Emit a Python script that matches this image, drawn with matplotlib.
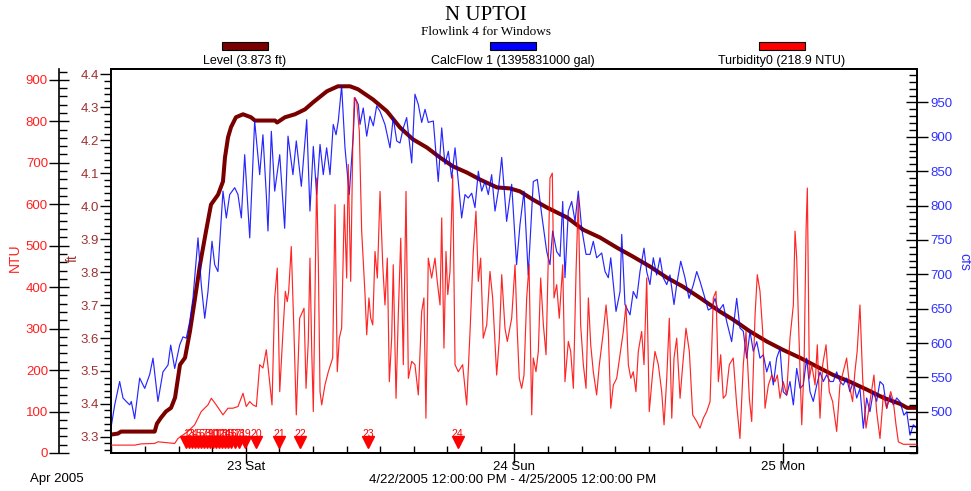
import datetime as dt
import matplotlib
matplotlib.use("Agg")
import matplotlib.pyplot as plt
import matplotlib.dates as mdates
import matplotlib.transforms as mtransforms
from matplotlib.patches import Rectangle
from matplotlib.ticker import MultipleLocator, FixedLocator

plt.rcParams['font.family'] = ['Liberation Sans', 'DejaVu Sans']

start = dt.datetime(2005, 4, 22, 12)

# Level (ft), hours since 4/22/2005 12:00 PM
level_hours = [0, 0.58, 0.85, 3.86, 4.06, 4.42, 4.87, 5.32, 5.68, 6.12, 6.57, 7.01, 7.46, 7.91,
               8.44, 8.89, 9.52, 9.96, 10.14, 10.41, 10.68, 11.12, 11.75, 12.46, 12.82, 14.61,
               14.79, 15.5, 16.39, 17.29, 18.0, 19.25, 20.23, 21.31, 22.02, 23.36, 24.61, 25.77,
               26.93, 28.18, 29.34, 30.5, 31.76, 32.92, 34.44, 35.6, 36.49, 37.65, 38.9, 40.69,
               42.12, 43.64, 45.16, 46.59, 48.1, 49.62, 51.05, 52.57, 54.36, 55.52, 57.04, 58.56,
               59.99, 61.51, 63.03, 64.46, 65.98, 67.5, 68.93, 70.45, 71.08, 72.0]
level_ft = [3.307, 3.31, 3.316, 3.316, 3.34, 3.358, 3.377, 3.388, 3.419, 3.519, 3.54, 3.62, 3.72,
            3.823, 3.923, 4.005, 4.035, 4.075, 4.148, 4.209, 4.24, 4.27, 4.279, 4.27, 4.26, 4.26,
            4.254, 4.27, 4.279, 4.294, 4.315, 4.349, 4.364, 4.364, 4.355, 4.324, 4.288, 4.239,
            4.203, 4.178, 4.148, 4.121, 4.102, 4.081, 4.057, 4.054, 4.045, 4.02, 3.996, 3.966,
            3.929, 3.905, 3.874, 3.847, 3.817, 3.783, 3.756, 3.722, 3.68, 3.656, 3.62, 3.589,
            3.564, 3.54, 3.513, 3.488, 3.467, 3.443, 3.419, 3.4, 3.388, 3.388]

# CalcFlow 1 (cfs)
flow_hours = [0, 0.29, 0.73, 1.03, 1.32, 1.63, 1.77, 2.07, 2.52, 2.97, 3.41, 3.71, 4.15, 4.6,
              5.05, 5.29, 5.65, 6.09, 6.39, 6.68, 6.99, 7.28, 7.73, 8.02, 8.33, 8.62, 8.98, 9.22,
              9.51, 9.96, 10.26, 10.56, 11.01, 11.3, 11.6, 11.9, 12.35, 12.79, 13.24, 13.53,
              13.83, 13.98, 14.28, 14.58, 15.03, 15.47, 15.77, 16.21, 16.51, 16.96, 17.44, 17.73,
              18.03, 18.33, 18.63, 18.92, 19.22, 19.52, 19.81, 20.06, 20.26, 20.56, 20.86, 21.24,
              21.6, 21.75, 22.05, 22.2, 22.49, 22.8, 23.09, 23.39, 23.69, 23.99, 24.43, 24.88,
              25.17, 25.48, 25.77, 26.07, 26.37, 26.82, 27.11, 27.41, 27.71, 28.01, 28.3, 28.75,
              29.19, 29.5, 29.79, 30.09, 30.39, 30.69, 30.98, 31.28, 31.58, 31.87, 32.18, 32.47,
              32.77, 33.07, 33.37, 33.66, 33.96, 34.26, 34.55, 34.86, 35.3, 35.75, 36.19, 36.49,
              36.85, 37.23, 37.68, 38.04, 38.43, 38.88, 39.17, 39.41, 39.77, 40.07, 40.31, 40.51,
              40.81, 41.11, 41.41, 41.7, 42.0, 42.39, 42.75, 43.04, 43.34, 43.79, 44.09, 44.38,
              44.6, 45.07, 45.43, 45.58, 45.87, 46.32, 46.61, 46.92, 47.21, 47.57, 47.81, 48.1,
              48.4, 48.7, 49.0, 49.29, 49.6, 49.89, 50.25, 50.49, 50.85, 51.23, 51.59, 51.98,
              52.28, 52.57, 52.93, 53.31, 53.62, 53.91, 54.21, 54.65, 54.96, 55.4, 55.85, 56.14,
              56.44, 56.74, 57.04, 57.33, 57.64, 57.93, 58.23, 58.53, 58.82, 59.12, 59.42, 59.72,
              60.01, 60.31, 60.61, 60.91, 61.21, 61.51, 61.8, 62.1, 62.4, 62.69, 63.0, 63.29,
              63.59, 63.89, 64.18, 64.48, 64.78, 65.07, 65.37, 65.67, 65.96, 66.27, 66.57, 66.86,
              67.16, 67.46, 67.75, 68.05, 68.35, 68.65, 68.95, 69.25, 69.54, 69.84, 70.14, 70.43,
              70.79, 71.04, 71.33, 71.63, 71.93]
flow_cfs = [481, 510, 544, 520, 515, 510, 515, 490, 549, 534, 554, 578, 515, 558,
            568, 597, 563, 597, 609, 607, 631, 665, 753, 685, 636, 675, 748, 714,
            704, 821, 782, 816, 826, 816, 782, 874, 753, 923, 845, 903,
            816, 763, 908, 821, 874, 767, 901, 845, 894, 828, 925, 792,
            886, 816, 889, 845, 884, 845, 918, 903, 923, 974, 884, 816,
            903, 957, 947, 918, 942, 901, 930, 916, 945, 937, 918, 884,
            928, 894, 891, 913, 928, 862, 962, 947, 921, 940, 921, 923,
            835, 913, 860, 879, 840, 884, 835, 782, 816, 811, 818, 797,
            850, 821, 835, 816, 845, 792, 821, 870, 777, 831, 714, 772,
            821, 699, 835, 838, 787, 733, 714, 763, 733, 726, 806, 695,
            792, 806, 777, 821, 767, 729, 729, 748, 724, 731, 704, 695,
            724, 646, 675, 758, 656, 641, 675, 665, 704, 738, 704, 685,
            724, 699, 724, 695, 685, 699, 656, 685, 719, 695, 665, 685,
            704, 690, 670, 648, 651, 665, 646, 656, 631, 602, 665, 622,
            617, 578, 617, 588, 602, 578, 583, 558, 573, 539, 578, 592,
            529, 524, 544, 510, 563, 534, 539, 578, 529, 515, 539, 558,
            544, 554, 544, 544, 558, 544, 539, 549, 529, 544, 520, 534,
            476, 520, 500, 529, 515, 544, 539, 505, 524, 510, 520, 515,
            495, 500, 466, 481, 476]

# Turbidity0 (NTU)
turb_hours = [0, 2.07, 2.66, 3.86, 4.15, 5.65, 5.94, 6.83, 7.43, 8.02, 8.62, 8.92, 9.36, 9.96,
              10.41, 10.85, 11.3, 11.75, 12.04, 12.35, 12.64, 12.94, 13.24, 13.53, 13.83, 14.13,
              14.34, 14.58, 14.81, 15.03, 15.32, 15.53, 15.7, 15.83, 16.06, 16.3, 16.51, 16.81,
              17.2, 17.38, 17.58, 17.73, 17.89, 18.03, 18.18, 18.33, 18.48, 18.63, 18.78, 19.07,
              19.37, 19.76, 19.97, 20.17, 20.35, 20.56, 20.8, 21.01, 21.15, 21.37, 21.55, 21.69,
              21.9, 22.14, 22.35, 22.65, 22.8, 23.0, 23.16, 23.34, 23.54, 23.75, 23.99, 24.23,
              24.43, 24.64, 24.82, 25.03, 25.17, 25.42, 25.62, 25.84, 26.07, 26.31, 26.52, 26.82,
              27.11, 27.41, 27.71, 27.91, 28.09, 28.3, 28.6, 28.9, 29.1, 29.35, 29.5, 29.7,
              29.88, 30.04, 30.24, 30.48, 30.69, 30.98, 31.37, 31.73, 32.03, 32.32, 32.56, 32.77,
              32.98, 33.21, 33.52, 33.81, 34.05, 34.41, 34.65, 34.86, 35.15, 35.36, 35.75, 36.05,
              36.25, 36.43, 36.64, 36.85, 37.09, 37.3, 37.54, 37.68, 37.92, 38.13, 38.34, 38.58,
              38.82, 39.02, 39.17, 39.38, 39.53, 39.77, 40.0, 40.31, 40.51, 40.81, 41.02, 41.26,
              41.5, 41.7, 41.91, 42.15, 42.39, 42.6, 42.81, 43.04, 43.34, 43.58, 43.94, 44.18,
              44.38, 44.6, 44.83, 45.13, 45.43, 45.72, 45.96, 46.17, 46.39, 46.61, 46.85, 47.06,
              47.36, 47.57, 47.81, 48.04, 48.35, 48.55, 48.85, 49.15, 49.36, 49.6, 49.83, 50.05,
              50.25, 50.49, 50.79, 51.03, 51.32, 51.62, 51.92, 52.28, 52.57, 52.87, 53.17, 53.47,
              53.76, 54.0, 54.21, 54.42, 54.65, 54.89, 55.19, 55.54, 55.85, 56.14, 56.44, 56.68,
              56.98, 57.19, 57.49, 57.69, 57.93, 58.17, 58.38, 58.68, 58.98, 59.27, 59.48, 59.72,
              60.01, 60.31, 60.61, 60.91, 61.06, 61.21, 61.36, 61.66, 61.87, 62.05, 62.16, 62.34,
              62.55, 62.85, 63.05, 63.29, 63.53, 63.83, 64.12, 64.42, 64.78, 65.07, 65.37, 65.67,
              65.96, 66.2, 66.41, 66.61, 66.86, 67.1, 67.4, 67.75, 68.11, 68.35, 68.65, 68.95,
              69.25, 69.61, 69.84, 70.08, 70.29, 70.73, 71.93]
turb_ntu = [19, 19, 22, 23, 27, 23, 35, 52, 68, 100, 116, 132, 116, 92,
            108, 108, 112, 144, 112, 124, 116, 112, 213, 205, 249, 172,
            116, 374, 446, 148, 293, 390, 365, 390, 498, 293, 92, 325,
            349, 156, 269, 470, 245, 100, 374, 663, 454, 148, 116, 164,
            196, 229, 599, 196, 277, 301, 599, 422, 696, 414, 736, 857,
            848, 776, 535, 382, 285, 374, 325, 309, 486, 422, 631, 454,
            357, 470, 172, 277, 454, 132, 333, 518, 213, 631, 180, 221,
            213, 140, 341, 374, 84, 470, 422, 470, 414, 357, 567, 253,
            486, 382, 438, 671, 213, 196, 213, 116, 293, 486, 583, 414,
            470, 277, 309, 438, 374, 188, 277, 430, 301, 269, 325, 454,
            293, 180, 156, 188, 374, 454, 92, 229, 196, 245, 422, 309,
            237, 470, 663, 675, 374, 406, 325, 454, 172, 269, 245, 156,
            438, 615, 309, 213, 156, 374, 261, 196, 140, 213, 293, 357,
            293, 108, 164, 180, 237, 293, 357, 213, 180, 196, 148, 245,
            293, 213, 422, 100, 196, 245, 213, 148, 68, 180, 325, 84,
            229, 277, 132, 213, 301, 245, 92, 76, 60, 84, 100, 124,
            374, 390, 172, 237, 132, 140, 213, 229, 116, 35, 213, 293,
            132, 76, 333, 430, 390, 293, 108, 164, 188, 172, 188, 132,
            172, 140, 277, 357, 535, 470, 325, 68, 213, 543, 639, 180,
            213, 164, 261, 84, 213, 261, 148, 124, 52, 164, 196, 229,
            156, 124, 196, 245, 357, 180, 60, 124, 188, 100, 35, 140,
            108, 148, 124, 68, 27, 21, 21]

# sampler events
sample_hours = [6.66, 6.92, 7.19, 7.46, 7.73, 8.0, 8.26, 8.53, 8.8, 9.07, 9.34, 9.6, 9.87,
                10.14, 10.41, 10.68, 11.03, 11.39, 11.93, 12.91, 14.96, 16.84, 22.94, 30.93]
sample_labels = [str(i) for i in range(1, 25)]

cfs_ticks = [500, 550, 600, 650, 700, 750, 800, 850, 900, 950]


def to_time(hours):
    return [start + dt.timedelta(hours=h) for h in hours]


level_c = '#7a0000'
flow_c = '#0000ff'
turb_c = '#ff0000'
ft_txt = '#a03030'
ntu_txt = '#ff2020'
cfs_txt = '#3030ff'

fig = plt.figure(figsize=(9.71, 4.91), dpi=100)
ax = fig.add_axes([0.1148, 0.0774, 0.8301, 0.7811])
ax2 = ax.twinx()
ax3 = ax.twinx()

ax.plot(to_time(level_hours), level_ft, color=level_c, lw=2.9, solid_capstyle='butt')
ax2.plot(to_time(flow_hours), flow_cfs, color=flow_c, lw=0.85, alpha=0.85)
ax3.plot(to_time(turb_hours), turb_ntu, color=turb_c, lw=0.85, alpha=0.85)

# sampler markers
trans = mtransforms.blended_transform_factory(ax3.transData, ax3.transAxes)
st = to_time(sample_hours)
ax3.plot(st, [0.028] * len(st), linestyle='none', marker='v', markersize=9,
         color=turb_c, transform=trans, clip_on=False)
for t, lab in zip(st, sample_labels):
    ax3.text(t, 0.05, lab, transform=trans, color=turb_c, fontsize=7.5,
             ha='center', va='center')

x0, x1 = start, start + dt.timedelta(hours=72)
ax.set_xlim(x0, x1)
ax.set_ylim(3.251, 4.415)
ax2.set_ylim(440, 998)
ax3.set_ylim(0, 925)

# x axis
ax.xaxis.set_major_locator(mdates.DayLocator())
ax.xaxis.set_major_formatter(mdates.DateFormatter('%d %a'))
ax.xaxis.set_minor_locator(mdates.HourLocator(byhour=range(0, 24, 3)))
ax.tick_params(axis='x', which='major', direction='inout', length=15, width=1,
               labelsize=9.5, pad=-2, colors='black')
ax.tick_params(axis='x', which='minor', direction='in', length=5, width=1)

# ft axis (main left)
ax.yaxis.set_major_locator(MultipleLocator(0.1))
ax.yaxis.set_minor_locator(MultipleLocator(0.02))
ax.yaxis.set_major_formatter(plt.FormatStrFormatter('%.1f'))
ax.tick_params(axis='y', which='major', direction='out', length=8, width=1,
               labelsize=9.5, labelcolor=ft_txt, pad=1)
ax.tick_params(axis='y', which='minor', direction='out', length=5, width=1)

# cfs axis (right)
ax2.yaxis.set_major_locator(FixedLocator(cfs_ticks))
ax2.yaxis.set_minor_locator(MultipleLocator(10))
ax2.tick_params(axis='y', which='major', direction='inout', length=16, width=1,
                labelsize=9.5, labelcolor=cfs_txt, pad=1)
ax2.tick_params(axis='y', which='minor', direction='in', length=6, width=1)

# NTU axis (offset left)
ax3.spines['left'].set_position(('axes', -0.065))
ax3.spines['left'].set_visible(True)
ax3.spines['right'].set_visible(False)
ax3.yaxis.set_ticks_position('left')
ax3.yaxis.set_label_position('left')
ax3.yaxis.set_major_locator(MultipleLocator(100))
ax3.yaxis.set_minor_locator(MultipleLocator(20))
ax3.tick_params(axis='y', which='major', direction='inout', length=14, width=1,
                labelsize=9.5, labelcolor=ntu_txt, pad=1)
ax3.tick_params(axis='y', which='minor', direction='in', length=6, width=1)

for a in (ax, ax2, ax3):
    for s in a.spines.values():
        s.set_linewidth(1.2)

# axis titles
fig.text(15 / 971, 1 - 258 / 491, 'NTU', color=ntu_txt, fontsize=10, rotation=90,
         ha='center', va='center')
fig.text(73 / 971, 1 - 258 / 491, 'ft', color=ft_txt, fontsize=10, rotation=90,
         ha='center', va='center')
fig.text(964 / 971, 1 - 262 / 491, 'cfs', color=cfs_txt, fontsize=10, rotation=270,
         ha='center', va='center')

# titles
fig.text(0.5, 1 - 15 / 491, 'N UPTOI', family='Liberation Serif', fontsize=15,
         ha='center', va='center')
fig.text(0.5, 1 - 32 / 491, 'Flowlink 4 for Windows', family='Liberation Serif',
         fontsize=9.5, ha='center', va='center')

# legend
legend_items = [('Level (3.873 ft)', level_c, 245),
                ('CalcFlow 1 (1395831000 gal)', flow_c, 513),
                ('Turbidity0 (218.9 NTU)', turb_c, 782)]
for lab, col, cx in legend_items:
    fig.patches.append(Rectangle(((cx - 23) / 971, 1 - 50 / 491), 46 / 971, 8 / 491,
                                 transform=fig.transFigure, facecolor=col,
                                 edgecolor='black', lw=0.8))
    fig.text(cx / 971, 1 - 61 / 491, lab, fontsize=9, ha='center', va='center')

fig.text(57 / 971, 1 - 479 / 491, 'Apr 2005', fontsize=9.5, ha='center', va='center')
fig.text(513 / 971, 1 - 480 / 491, '4/22/2005 12:00:00 PM - 4/25/2005 12:00:00 PM',
         fontsize=9.5, ha='center', va='center')

fig.savefig('out.png', dpi=100)
